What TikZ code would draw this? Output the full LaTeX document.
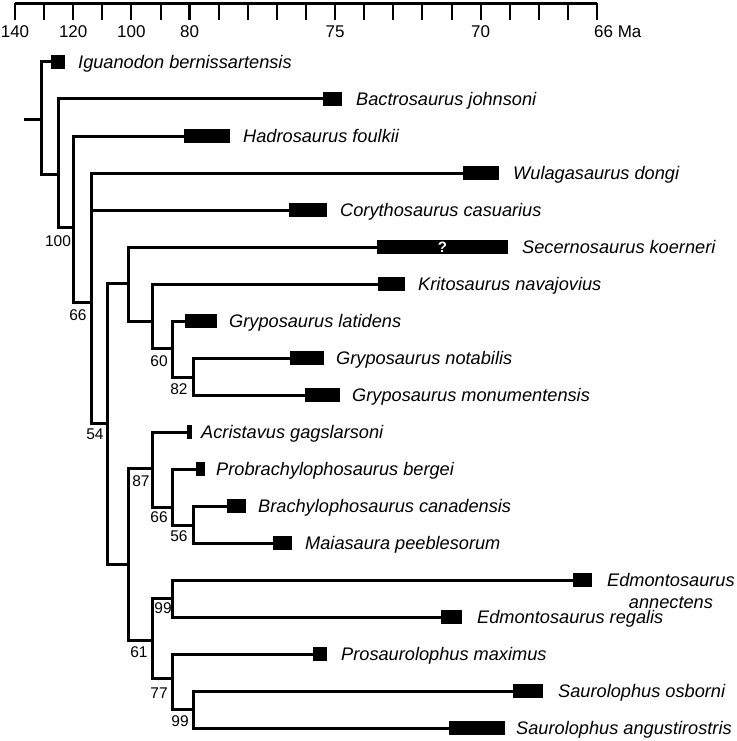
\documentclass[tikz,border=0pt]{standalone}
\usepackage{fontspec}
\setmainfont{Liberation Sans}
\usetikzlibrary{positioning}
\tikzset{
  branch/.style={line width=3pt, line cap=square},
  rangebar/.style={fill=black, inner sep=0pt, minimum height=14pt},
  taxon/.style={inner sep=0pt, anchor=base west, font=\fontsize{18.2}{22}\selectfont\itshape},
  support/.style={inner sep=0pt, font=\fontsize{15.5}{17}\selectfont},
  agelabel/.style={inner sep=0pt, font=\fontsize{17}{19}\selectfont}
}
\begin{document}
\begin{tikzpicture}[x=1pt,y=-1pt]
\useasboundingbox (0,0) rectangle (736,741);
\draw [line width=3.2pt] (15,3.2) -- (597,3.2);
\foreach \i in {0,...,20}
    \draw [line width=2pt] (15+29.1*\i,3.2) -- (15+29.1*\i,20);
\draw [line width=3.5pt] (189.6,3.2) -- (189.6,20);
\foreach \i/\age in {0/140,2/120,4/100,6/80,11/75,16/70}
    \node [agelabel] (age\age) at (15+29.1*\i,32) {\age};
\node [agelabel, anchor=west] (age66) at (594,32) {66 Ma};
\foreach \i/\xa/\xb/\xl/\name in {1/51/65/78/Iguanodon bernissartensis,
        2/323/342/356/Bactrosaurus johnsoni, 3/184/230/243/Hadrosaurus foulkii,
        4/463/499/513/Wulagasaurus dongi, 5/289/327/340/Corythosaurus casuarius,
        6/377/508/522/Secernosaurus koerneri, 7/378/405/418/Kritosaurus navajovius,
        8/185/217/229/Gryposaurus latidens, 9/290/324/336/Gryposaurus notabilis,
        10/305/340/352/Gryposaurus monumentensis, 11/187/192/201/Acristavus gagslarsoni,
        12/196/205/216/Probrachylophosaurus bergei, 13/227/246/258/Brachylophosaurus canadensis,
        14/273/292/305/Maiasaura peeblesorum, 16/441/462/477/Edmontosaurus regalis,
        17/313/327/341/Prosaurolophus maximus, 18/513/543/558/Saurolophus osborni,
        19/449/505/516/Saurolophus angustirostris}
    {\node [rangebar, minimum width=\xb-\xa] (box\i) at ({(\xa+\xb)/2},{62+37*(\i-1)}) {};
    \node [taxon] (taxon\i) at (\xl,{68.5+37*(\i-1)}) {\name};}
\node [rangebar, minimum width=19] (box15) at (582.5,580) {};
\node [taxon, anchor=west, align=center] (taxon15) at (607,591) {Edmontosaurus\\annectens};
\node [text=white, inner sep=0pt, font=\bfseries\fontsize{15}{17}\selectfont] (qmark) at (box6) {?};
\coordinate (root) at (23.5,120);
\coordinate (n0) at (41,120);
\coordinate (n1) at (58,174);
\coordinate (n2) at (73,227);
\coordinate (n3) at (91,302);
\coordinate (n4) at (107,423);
\coordinate (n5) at (128,283);
\coordinate (n6) at (152,321);
\coordinate (n7) at (172,348);
\coordinate (n8) at (193,377);
\coordinate (n9) at (128,564);
\coordinate (n10) at (152,468);
\coordinate (n11) at (172,507);
\coordinate (n12) at (193,525);
\coordinate (n13) at (152,640);
\coordinate (n14) at (172,598);
\coordinate (n15) at (172,678);
\coordinate (n16) at (193,709);
\draw [branch] (root) -- (n0);
\foreach \p/\c in {n0/box1.west, n0/n1, n1/box2.west, n1/n2, n2/box3.west, n2/n3,
        n3/box4.west, n3/box5.west, n3/n4, n4/n5, n4/n9, n5/box6.west, n5/n6,
        n6/box7.west, n6/n7, n7/box8.west, n7/n8, n8/box9.west, n8/box10.west,
        n9/n10, n9/n13, n10/box11.west, n10/n11, n11/box12.west, n11/n12,
        n12/box13.west, n12/box14.west, n13/n14, n13/n15, n14/box15.west,
        n14/box16.west, n15/box17.west, n15/n16, n16/box18.west, n16/box19.west}
    \draw [branch] (\p) |- (\c);
\foreach \v/\x/\y [count=\k] in {100/58/241, 66/78/315, 54/95/434, 60/159/361,
        82/179/389, 87/141/481, 66/159/517, 56/179/536, 99/163/608, 61/139/652,
        77/159/693, 99/180/721}
    \node [support] (bs\k) at (\x,\y) {\v};
\end{tikzpicture}
\end{document}
